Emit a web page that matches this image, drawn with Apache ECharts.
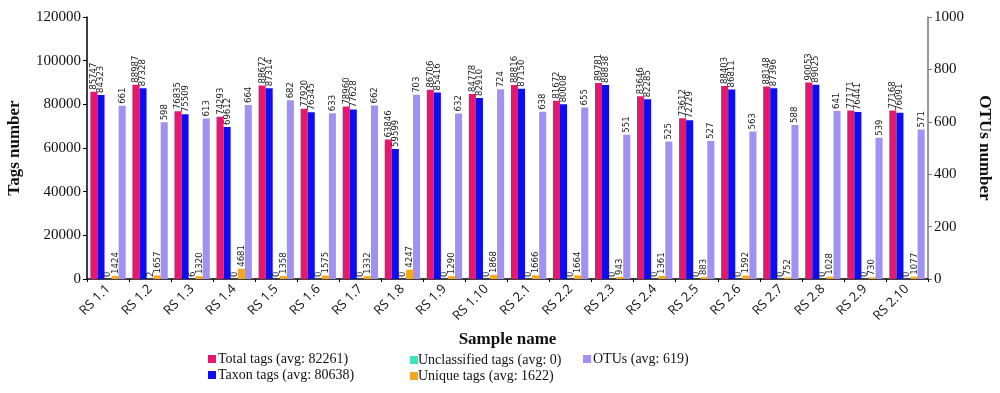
<!DOCTYPE html>
<html><head><meta charset="utf-8">
<script src="https://cdn.jsdelivr.net/npm/echarts@6/dist/echarts.min.js"></script>
<style>html,body{margin:0;padding:0;background:#fff}#c{width:1000px;height:393px}</style>
</head><body><div id="c"></div>
<script>
const categories = ['RS 1.1','RS 1.2','RS 1.3','RS 1.4','RS 1.5','RS 1.6','RS 1.7','RS 1.8','RS 1.9','RS 1.10','RS 2.1','RS 2.2','RS 2.3','RS 2.4','RS 2.5','RS 2.6','RS 2.7','RS 2.8','RS 2.9','RS 2.10'];
const totalTags = [85747,88987,76835,74293,88672,77920,78960,63846,86706,84778,88816,81672,89781,83646,73612,88403,88148,90053,77171,77168];
const taxonTags = [84323,87328,75509,69612,87314,76345,77628,59599,85416,82910,87150,80008,88838,82285,72729,86811,87396,89025,76441,76091];
const unclassifiedTags = [0,2,6,0,0,0,0,0,0,0,0,0,0,0,0,0,0,0,0,0];
const uniqueTags = [1424,1657,1320,4681,1358,1575,1332,4247,1290,1868,1666,1664,943,1361,883,1592,752,1028,730,1077];
const otus = [661,598,613,664,682,633,662,703,632,724,638,655,551,525,527,563,588,641,539,571];
const leftTicks = [0,20000,40000,60000,80000,100000,120000];
const rightTicks = [0,200,400,600,800,1000];

const serif = 'Liberation Serif';
const lab = {show:true, position:'top', rotate:90, align:'left', verticalAlign:'middle', distance:2, fontSize:9.5, color:'#222', fontFamily:'DejaVu Sans Condensed'};
function bar(name, data, color, yi){
  return {name, type:'bar', data, yAxisIndex:yi, barGap:'0%', barCategoryGap:'16%', itemStyle:{color}, label:lab};
}
const chart = echarts.init(document.getElementById('c'));
chart.setOption({
  animation:false,
  grid:{left:87, right:72, top:17, bottom:114, outerBoundsMode:'none', containLabel:false},
  xAxis:{type:'category', data:categories,
    axisLine:{lineStyle:{color:'#000', width:1.5}},
    axisTick:{show:true, alignWithLabel:false, length:3, lineStyle:{color:'#000'}},
    axisLabel:{rotate:45, fontSize:13, color:'#111', fontFamily:'Open Sans', margin:8},
    name:'Sample name', nameLocation:'middle', nameGap:52,
    nameTextStyle:{fontFamily:serif, fontWeight:'bold', fontSize:17, color:'#111'}},
  yAxis:[
    {type:'value', min:leftTicks[0], max:leftTicks[leftTicks.length-1], interval:leftTicks[1]-leftTicks[0], splitLine:{show:false},
     axisLine:{show:true, lineStyle:{color:'#000', width:1.5}},
     axisTick:{show:true, length:4, lineStyle:{color:'#000'}},
     axisLabel:{fontFamily:serif, fontSize:15, color:'#111', margin:6, formatter:v=>String(v)},
     name:'Tags number', nameLocation:'middle', nameGap:64,
     nameTextStyle:{fontFamily:serif, fontWeight:'bold', fontSize:17, color:'#111'}},
    {type:'value', min:rightTicks[0], max:rightTicks[rightTicks.length-1], interval:rightTicks[1]-rightTicks[0], splitLine:{show:false}, position:'right',
     axisLine:{show:true, lineStyle:{color:'#777', width:1.5}},
     axisTick:{show:true, length:4, lineStyle:{color:'#777'}},
     axisLabel:{fontFamily:serif, fontSize:15, color:'#111', margin:6, formatter:v=>String(v)},
     name:'OTUs number', nameLocation:'middle', nameGap:48, nameRotate:-90,
     nameTextStyle:{fontFamily:serif, fontWeight:'bold', fontSize:17, color:'#111'}}
  ],
  legend:[
    {data:['Total tags (avg: 82261)','Taxon tags (avg: 80638)'], orient:'vertical', left:203, top:347, itemWidth:8, itemHeight:8, itemGap:2, icon:'rect', textStyle:{fontFamily:serif, fontSize:14, color:'#111', padding:[0,0,0,-3]}},
    {data:['Unclassified tags (avg: 0)','Unique tags (avg: 1622)'], orient:'vertical', left:405, top:348, itemWidth:8, itemHeight:8, itemGap:2, icon:'rect', textStyle:{fontFamily:serif, fontSize:14, color:'#111', padding:[0,0,0,-5]}},
    {data:['OTUs (avg: 619)'], orient:'vertical', left:578, top:347, itemWidth:8, itemHeight:8, icon:'rect', textStyle:{fontFamily:serif, fontSize:14, color:'#111', padding:[0,0,0,-3]}}
  ],
  series:[
    bar('Total tags (avg: 82261)', totalTags, '#e3186e', 0),
    bar('Taxon tags (avg: 80638)', taxonTags, '#0d0df0', 0),
    bar('Unclassified tags (avg: 0)', unclassifiedTags, '#3de3bd', 0),
    bar('Unique tags (avg: 1622)', uniqueTags, '#f3a620', 0),
    bar('OTUs (avg: 619)', otus, '#9f92f2', 1)
  ]
});
</script></body></html>
